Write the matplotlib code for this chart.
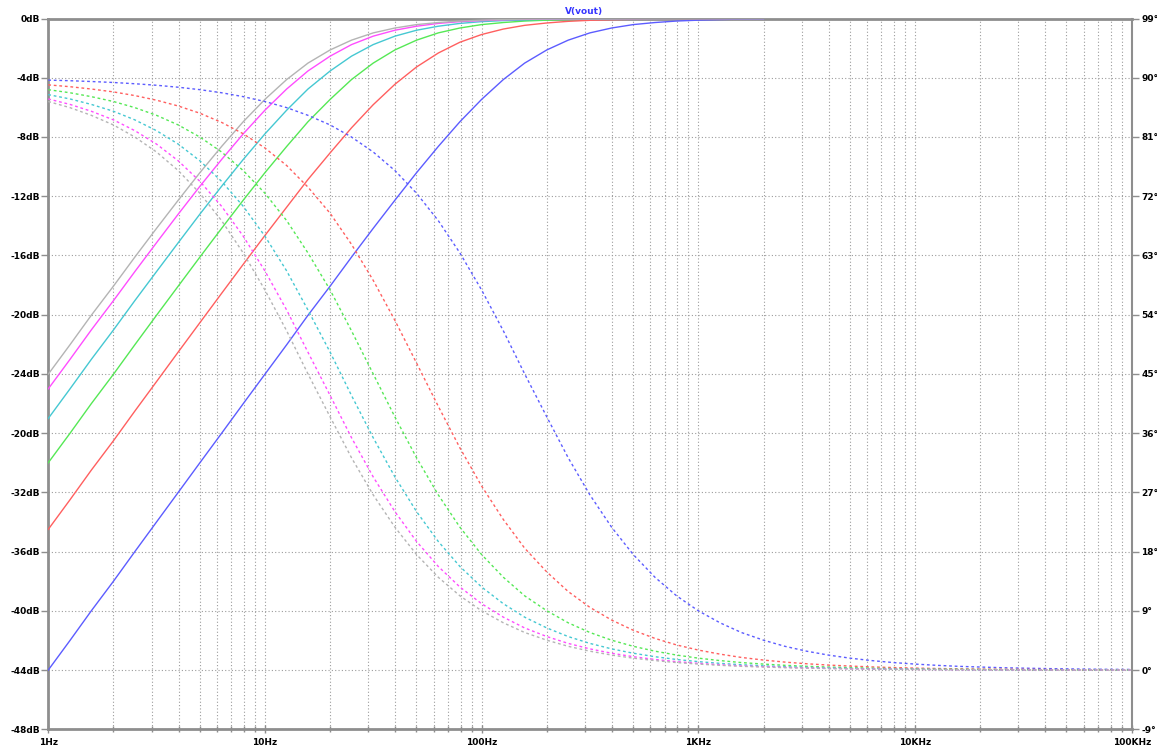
import matplotlib.pyplot as plt
from matplotlib.ticker import LogLocator, NullFormatter

# Frequency points (Hz), 10 per decade
freq = [1, 1.26, 1.58, 2, 2.51, 3.16, 3.98, 5.01, 6.31, 7.94,
        10, 12.6, 15.8, 20, 25.1, 31.6, 39.8, 50.1, 63.1, 79.4,
        100, 126, 158, 200, 251, 316, 398, 501, 631, 794,
        1000, 1260, 1580, 2000, 2510, 3160, 3980, 5010, 6310, 7940,
        10000, 12600, 15800, 20000, 25100, 31600, 39800, 50100, 63100, 79400, 100000]
# the magnitude traces stop at 2 kHz
freq_mag = [1, 1.26, 1.58, 2, 2.51, 3.16, 3.98, 5.01, 6.31, 7.94,
            10, 12.6, 15.8, 20, 25.1, 31.6, 39.8, 50.1, 63.1, 79.4,
            100, 126, 158, 200, 251, 316, 398, 501, 631, 794,
            1000, 1260, 1580, 2000]

# |V(vout)| in dB for each step
mag_blue = [-44.00, -42.00, -40.00, -38.00, -36.00, -34.00, -32.00, -30.00, -28.01, -26.01,
            -24.02, -22.03, -20.04, -18.07, -16.11, -14.17, -12.27, -10.41, -8.64, -6.97,
            -5.46, -4.12, -3.01, -2.12, -1.46, -0.97, -0.64, -0.41, -0.27, -0.17,
            -0.11, -0.07, -0.04, -0.03]
mag_red = [-34.50, -32.50, -30.50, -28.51, -26.51, -24.52, -22.52, -20.54, -18.56, -16.60,
           -14.65, -12.74, -10.87, -9.07, -7.38, -5.82, -4.44, -3.27, -2.33, -1.60,
           -1.08, -0.71, -0.46, -0.30, -0.19, -0.12, -0.08, -0.05, -0.03, -0.02,
           -0.01, -0.01, 0.0, 0.0]
mag_green = [-30.00, -28.01, -26.01, -24.02, -22.03, -20.04, -18.07, -16.11, -14.17, -12.27,
             -10.41, -8.64, -6.97, -5.46, -4.12, -3.01, -2.12, -1.46, -0.97, -0.64,
             -0.41, -0.27, -0.17, -0.11, -0.07, -0.04, -0.03, -0.02, -0.01, -0.01,
             0.0, 0.0, 0.0, 0.0]
mag_cyan = [-27.01, -25.01, -23.02, -21.03, -19.05, -17.09, -15.14, -13.21, -11.33, -9.52,
            -7.79, -6.19, -4.76, -3.54, -2.54, -1.76, -1.19, -0.79, -0.52, -0.33,
            -0.21, -0.14, -0.09, -0.05, -0.03, -0.02, -0.01, -0.01, -0.01, 0.0,
            0.0, 0.0, 0.0, 0.0]
mag_magenta = [-25.01, -23.02, -21.03, -19.05, -17.09, -15.14, -13.21, -11.33, -9.52, -7.79,
               -6.19, -4.76, -3.54, -2.54, -1.76, -1.19, -0.79, -0.52, -0.33, -0.21,
               -0.14, -0.09, -0.05, -0.03, -0.02, -0.01, -0.01, -0.01, 0.0, 0.0,
               0.0, 0.0, 0.0, 0.0]
mag_gray = [-24.02, -22.03, -20.04, -18.07, -16.11, -14.17, -12.27, -10.41, -8.64, -6.97,
            -5.46, -4.12, -3.01, -2.12, -1.46, -0.97, -0.64, -0.41, -0.27, -0.17,
            -0.11, -0.07, -0.04, -0.03, -0.02, -0.01, -0.01, 0.0, 0.0, 0.0,
            0.0, 0.0, 0.0, 0.0]

# phase of V(vout) in degrees
ph_blue = [89.64, 89.55, 89.43, 89.28, 89.09, 88.86, 88.56, 88.19, 87.72, 87.13,
           86.39, 85.46, 84.29, 82.83, 80.99, 78.72, 75.90, 72.45, 68.29, 63.38,
           57.75, 51.54, 45.00, 38.46, 32.25, 26.62, 21.71, 17.55, 14.10, 11.28,
           9.01, 7.18, 5.71, 4.54, 3.61, 2.87, 2.28, 1.81, 1.44, 1.14,
           0.91, 0.72, 0.57, 0.46, 0.36, 0.29, 0.23, 0.18, 0.14, 0.11, 0.09]
ph_red = [88.92, 88.64, 88.29, 87.85, 87.29, 86.59, 85.71, 84.61, 83.22, 81.49,
          79.33, 76.66, 73.38, 69.40, 64.68, 59.22, 53.13, 46.65, 40.08, 33.76,
          27.96, 22.87, 18.52, 14.90, 11.93, 9.53, 7.60, 6.05, 4.81, 3.82,
          3.04, 2.42, 1.92, 1.52, 1.21, 0.96, 0.76, 0.61, 0.48, 0.38,
          0.30, 0.24, 0.19, 0.15, 0.12, 0.10, 0.08, 0.06, 0.05, 0.04, 0.03]
ph_green = [88.19, 87.72, 87.13, 86.39, 85.46, 84.29, 82.83, 80.99, 78.72, 75.90,
            72.45, 68.29, 63.38, 57.75, 51.54, 45.00, 38.46, 32.25, 26.62, 21.71,
            17.55, 14.10, 11.28, 9.01, 7.18, 5.71, 4.54, 3.61, 2.87, 2.28,
            1.81, 1.44, 1.14, 0.91, 0.72, 0.57, 0.46, 0.36, 0.29, 0.23,
            0.18, 0.14, 0.11, 0.09, 0.07, 0.06, 0.05, 0.04, 0.03, 0.02, 0.02]
ph_cyan = [87.44, 86.78, 85.95, 84.91, 83.60, 81.96, 79.92, 77.38, 74.26, 70.47,
           65.93, 60.65, 54.70, 48.29, 41.71, 35.30, 29.35, 24.07, 19.54, 15.74,
           12.62, 10.08, 8.04, 6.40, 5.09, 4.05, 3.22, 2.56, 2.03, 1.61,
           1.28, 1.02, 0.81, 0.64, 0.51, 0.41, 0.32, 0.26, 0.20, 0.16,
           0.13, 0.10, 0.08, 0.06, 0.05, 0.04, 0.03, 0.03, 0.02, 0.02, 0.01]
ph_magenta = [86.78, 85.95, 84.91, 83.60, 81.96, 79.92, 77.38, 74.26, 70.47, 65.93,
              60.65, 54.70, 48.29, 41.71, 35.30, 29.35, 24.07, 19.54, 15.74, 12.62,
              10.08, 8.04, 6.40, 5.09, 4.05, 3.22, 2.56, 2.03, 1.61, 1.28,
              1.02, 0.81, 0.64, 0.51, 0.41, 0.32, 0.26, 0.20, 0.16, 0.13,
              0.10, 0.08, 0.06, 0.05, 0.04, 0.03, 0.03, 0.02, 0.02, 0.01, 0.01]
ph_gray = [86.39, 85.46, 84.29, 82.83, 80.99, 78.72, 75.90, 72.45, 68.29, 63.38,
           57.75, 51.54, 45.00, 38.46, 32.25, 26.62, 21.71, 17.55, 14.10, 11.28,
           9.01, 7.18, 5.71, 4.54, 3.61, 2.87, 2.28, 1.81, 1.44, 1.14,
           0.91, 0.72, 0.57, 0.46, 0.36, 0.29, 0.23, 0.18, 0.14, 0.11,
           0.09, 0.07, 0.06, 0.05, 0.04, 0.03, 0.02, 0.02, 0.01, 0.01, 0.01]

db_ticks = [0, -4, -8, -12, -16, -20, -24, -28, -32, -36, -40, -44, -48]
db_labels = ["0dB", "-4dB", "-8dB", "-12dB", "-16dB", "-20dB", "-24dB", "-20dB",
             "-32dB", "-36dB", "-40dB", "-44dB", "-48dB"]
deg_ticks = [99, 90, 81, 72, 63, 54, 45, 36, 27, 18, 9, 0, -9]
deg_labels = ["99°", "90°", "81°", "72°", "63°", "54°", "45°", "36°", "27°", "18°", "9°", "0°", "-9°"]
freq_ticks = [1, 10, 100, 1000, 10000, 100000]
freq_labels = ["1Hz", "10Hz", "100Hz", "1KHz", "10KHz", "100KHz"]

mags = [mag_blue, mag_red, mag_green, mag_cyan, mag_magenta, mag_gray]
phases = [ph_blue, ph_red, ph_green, ph_cyan, ph_magenta, ph_gray]
colors = ["#5c5cff", "#ff5f5f", "#55e855", "#45c8d2", "#ff4dff", "#b4b4b4"]

frame = "#8e8e8e"
gridc = "#9c9c9c"
tfont = dict(family="DejaVu Sans", weight="bold", size=6.5)

fig = plt.figure(figsize=(11.57, 7.5), dpi=100)
ax = fig.add_axes([0.0417, 0.0276, 0.9364, 0.9477])
ax.set_xscale("log")
ax.set_xlim(1, 1e5)
ax.set_ylim(-48, 0)

ax2 = ax.twinx()
ax2.set_ylim(-9, 99)

# grid: every decade step on x, every 4 dB on y
ax.xaxis.set_major_locator(LogLocator(base=10, numticks=10))
ax.xaxis.set_minor_locator(LogLocator(base=10, subs=range(2, 10), numticks=50))
ax.xaxis.set_minor_formatter(NullFormatter())
ax.set_xticks(freq_ticks)
ax.set_xticklabels(freq_labels, fontdict=tfont)
ax.set_yticks(db_ticks)
ax.set_yticklabels(db_labels, fontdict=tfont)
ax.grid(True, which="both", axis="x", color=gridc, lw=0.8, ls=(0, (1, 2)))
ax.grid(True, which="major", axis="y", color=gridc, lw=0.8, ls=(0, (1, 2)))
ax.set_axisbelow(True)

ax2.set_yticks(deg_ticks)
ax2.set_yticklabels(deg_labels, fontdict=tfont)

# magnitude traces (solid)
for m, c in zip(mags, colors):
    ax.plot(freq_mag, m, color=c, lw=1.0, zorder=3)

# phase traces (dotted)
for p, c in zip(phases, colors):
    ax2.plot(freq, p, color=c, lw=1.0, ls=(0, (2, 2)), zorder=3)

for s in ["left", "bottom", "top"]:
    ax.spines[s].set_color(frame)
    ax.spines[s].set_linewidth(2)
ax.spines["right"].set_visible(False)
for s in ["left", "bottom", "top"]:
    ax2.spines[s].set_visible(False)
ax2.spines["right"].set_color(frame)
ax2.spines["right"].set_linewidth(1.5)

ax.tick_params(axis="y", direction="out", length=5, width=1, color=frame, pad=1)
ax2.tick_params(axis="y", direction="out", length=5, width=1, color=frame, pad=2)
ax.tick_params(axis="x", which="major", direction="inout", length=6, width=1, color=frame, pad=3)
ax.tick_params(axis="x", which="minor", direction="inout", length=4, width=1, color=frame)

fig.text(0.5048, 0.9853, "V(vout)", color="#3535ff", ha="center", va="center",
         family="DejaVu Sans", weight="bold", size=6.5)

fig.savefig("out.png", dpi=100)
